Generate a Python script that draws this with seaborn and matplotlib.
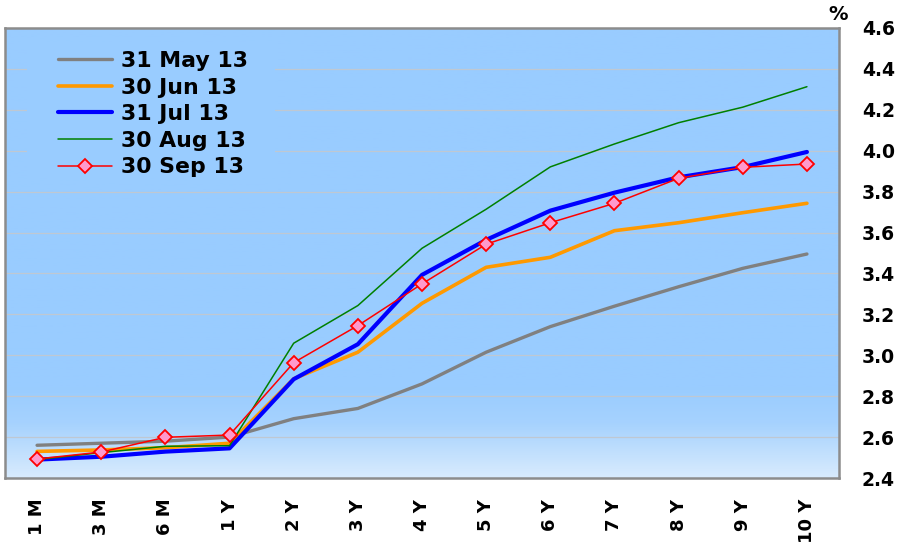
import numpy as np
import pandas as pd
import matplotlib
matplotlib.use("Agg")
import matplotlib.pyplot as plt
from matplotlib.colors import LinearSegmentedColormap
from matplotlib.patches import Rectangle
import seaborn as sns

# Yield curve tenors and dates
tenors = ["1 M", "3 M", "6 M", "1 Y", "2 Y", "3 Y", "4 Y", "5 Y", "6 Y", "7 Y", "8 Y", "9 Y", "10 Y"]
dates = ["31 May 13", "30 Jun 13", "31 Jul 13", "30 Aug 13", "30 Sep 13"]

may13 = [2.56, 2.57, 2.58, 2.60, 2.69, 2.74, 2.86, 3.015, 3.14, 3.24, 3.335, 3.425, 3.495]
jun13 = [2.53, 2.537, 2.548, 2.57, 2.885, 3.015, 3.254, 3.43, 3.479, 3.609, 3.648, 3.697, 3.743]
jul13 = [2.49, 2.504, 2.529, 2.545, 2.883, 3.054, 3.393, 3.564, 3.707, 3.795, 3.87, 3.92, 3.994]
aug13 = [2.49, 2.524, 2.555, 2.558, 3.059, 3.243, 3.523, 3.714, 3.921, 4.033, 4.137, 4.213, 4.313]
sep13 = [2.493, 2.527, 2.599, 2.61, 2.964, 3.145, 3.349, 3.543, 3.648, 3.743, 3.865, 3.919, 3.935]

yticks = [2.4, 2.6, 2.8, 3.0, 3.2, 3.4, 3.6, 3.8, 4.0, 4.2, 4.4, 4.6]

series = dict(zip(dates, [may13, jun13, jul13, aug13, sep13]))
df = pd.DataFrame(
    [(d, t, v) for d, vals in series.items() for t, v in zip(tenors, vals)],
    columns=["date", "tenor", "yield"],
)

styles = {
    "31 May 13": dict(color="#808080", linewidth=2.4),
    "30 Jun 13": dict(color="#FF9900", linewidth=2.6),
    "31 Jul 13": dict(color="#0000FF", linewidth=3.0),
    "30 Aug 13": dict(color="#008000", linewidth=1.1),
    "30 Sep 13": dict(color="#FF0000", linewidth=1.1, marker="D", markersize=7.5,
                      markerfacecolor="#FF99CC", markeredgecolor="#FF0000",
                      markeredgewidth=1.3),
}

sns.set_style("white")
plt.rcParams["font.family"] = ["DejaVu Sans"]
plt.rcParams["text.color"] = "black"
plt.rcParams["xtick.color"] = "black"
plt.rcParams["ytick.color"] = "black"

W, H = 902, 547
fig = plt.figure(figsize=(W / 100, H / 100), dpi=100)
ax = fig.add_axes([5 / W, 1 - 478 / H, 834 / W, 450 / H])

# Plot-area background: flat light blue, fading paler toward the bottom
x0, x1 = -0.5, len(tenors) - 0.5
ax.set_xlim(x0, x1)
ax.set_ylim(2.4, 4.6)
cmap = LinearSegmentedColormap.from_list(
    "bg", [(0.0, "#D8EBFD"), (0.12, "#A6D2FE"), (0.2, "#99CCFF"), (1.0, "#99CCFF")])
grad = np.linspace(0, 1, 256).reshape(-1, 1)
ax.imshow(grad, cmap=cmap, aspect="auto", origin="lower",
          extent=(x0, x1, 2.4, 4.6), zorder=0)

for y in yticks[1:-1]:
    ax.axhline(y, color="#BFC8D2", linewidth=0.9, zorder=1)

# Legend area hides the gridlines behind it
to_ax = ax.transAxes.inverted()
(lx0, ly0), (lx1, ly1) = to_ax.transform([(27, H - 178), (275, H - 42)])
ax.add_patch(Rectangle((lx0, ly0), lx1 - lx0, ly1 - ly0, transform=ax.transAxes,
                       facecolor="#99CCFF", edgecolor="none", zorder=2))

for d in dates:
    sub = df[df["date"] == d]
    sns.lineplot(data=sub, x="tenor", y="yield", ax=ax, label=d,
                 sort=False, zorder=3, **styles[d])

ax.set_xlim(x0, x1)
ax.set_ylim(2.4, 4.6)
ax.set_xlabel("")
ax.set_ylabel("")

ax.yaxis.tick_right()
ax.set_yticks(yticks)
ax.set_yticklabels([f"{v:.1f}" for v in yticks], fontsize=13.5, fontweight="bold")
ax.tick_params(axis="y", length=0, pad=16.5)
ax.set_xticks(range(len(tenors)))
ax.set_xticklabels(tenors, rotation=90, fontsize=13, fontweight="bold")
ax.tick_params(axis="x", length=0, pad=15)

for s in ax.spines.values():
    s.set_visible(True)
    s.set_color("#8C8C8C")
    s.set_linewidth(1.8)

fig.text(838 / W, 1 - 14 / H, "%", fontsize=14, fontweight="bold",
         ha="center", va="center")

leg = ax.legend(loc="upper left", bbox_to_anchor=(58 / W, 1 - 51 / H),
                bbox_transform=fig.transFigure, frameon=False,
                prop=dict(size=15.8, weight="bold"), handlelength=2.47,
                handletextpad=0.41, labelspacing=0.3, borderpad=0,
                borderaxespad=0)
leg.set_zorder(4)

fig.savefig("out.png", dpi=100)
